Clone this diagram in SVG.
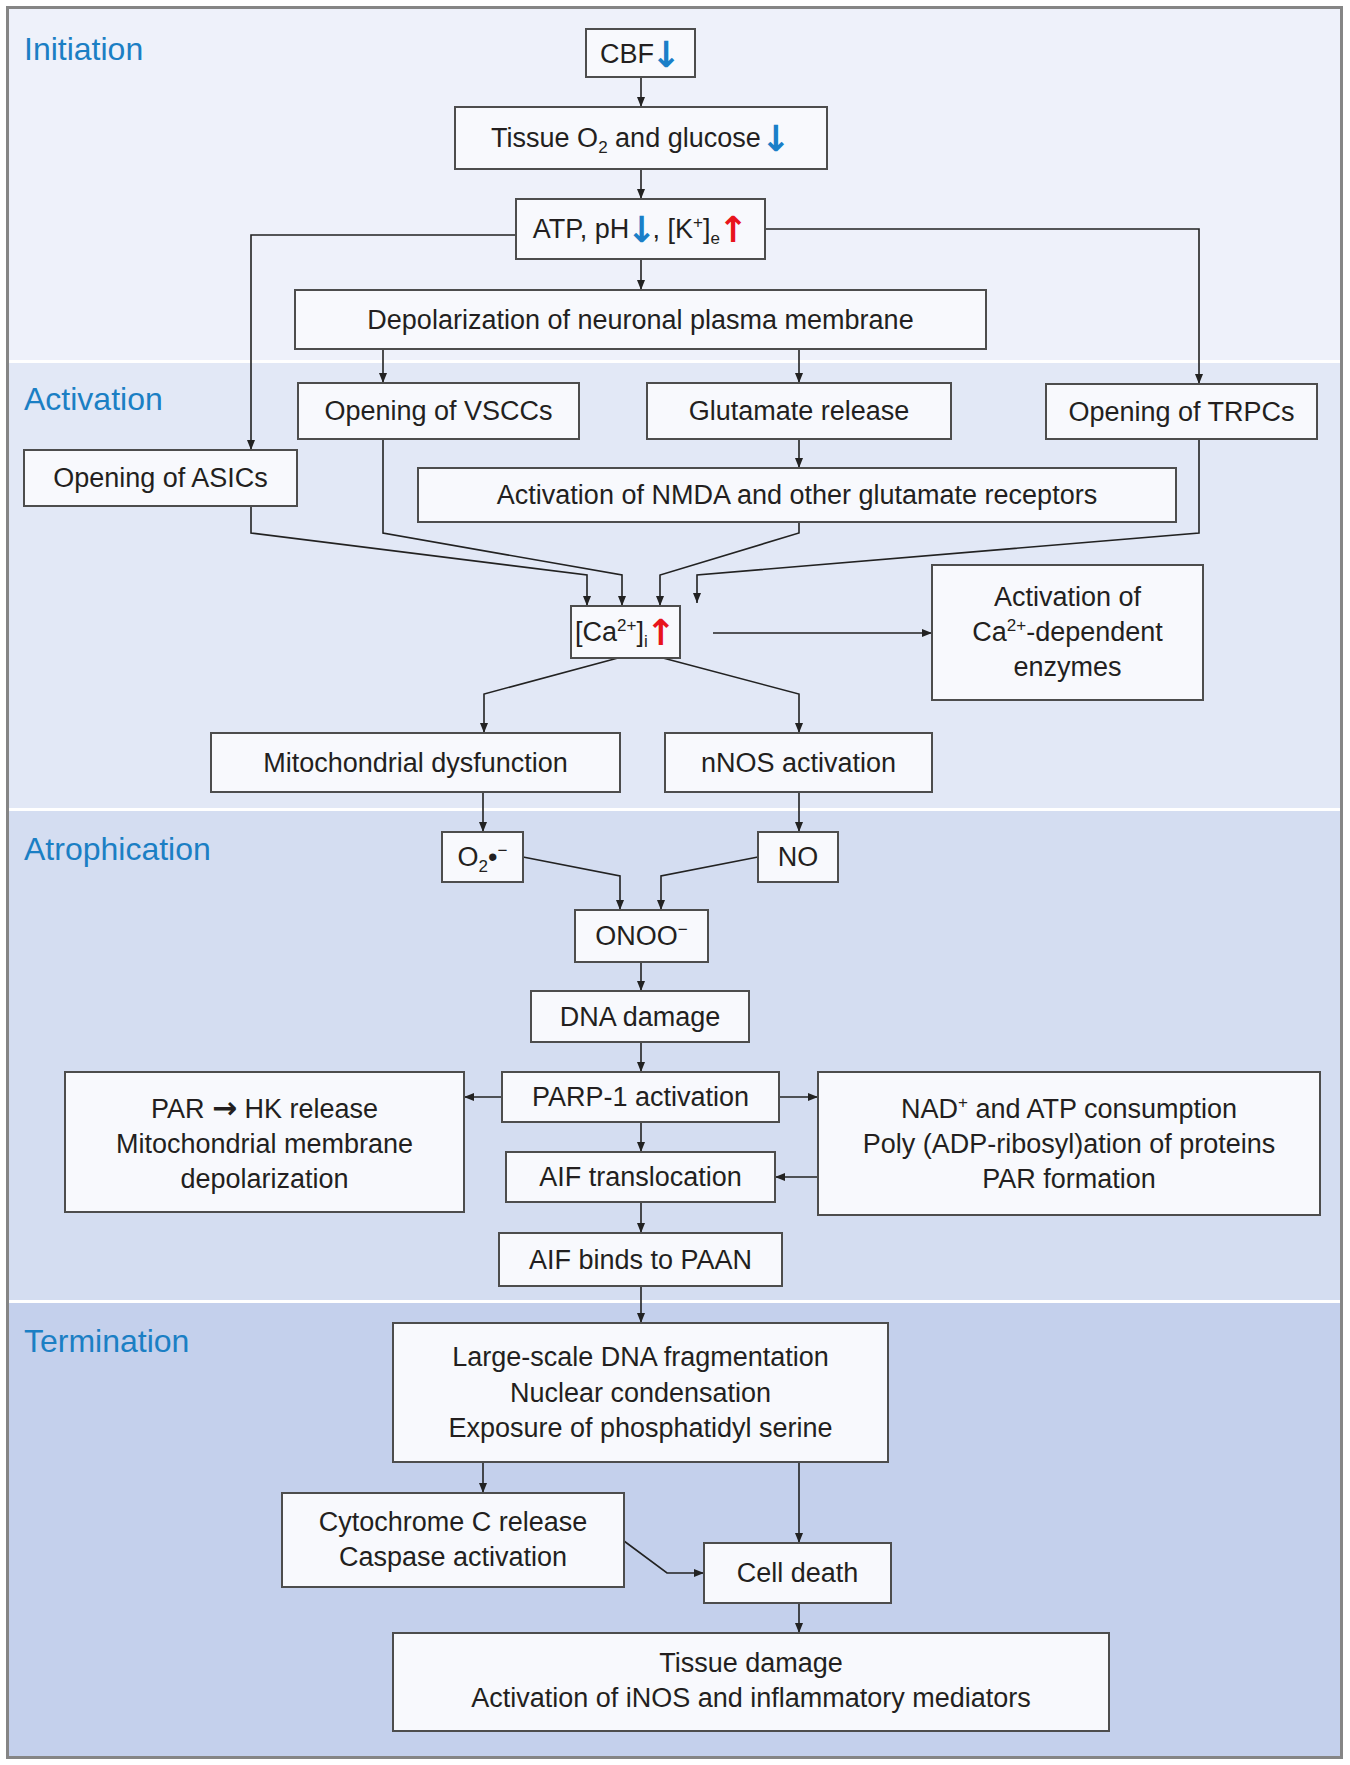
<svg xmlns="http://www.w3.org/2000/svg" width="1350" height="1765" viewBox="0 0 1350 1765">
<defs>
<style>
.t{font-family:"Liberation Sans",Arial,sans-serif;font-size:27px;fill:#231f20;text-anchor:middle}
.s{font-family:"Liberation Sans",Arial,sans-serif;font-size:32px;fill:#1b7fc4}
.b{fill:#f8f9fd;stroke:#4d4d4d;stroke-width:2}
.c path{fill:none;stroke:#222;stroke-width:1.6;marker-end:url(#ah)}
.dn{fill:#1a7fc8;font-weight:bold;font-family:"DejaVu Sans",sans-serif;font-size:36px}
.up{fill:#e8141c;font-weight:bold;font-family:"DejaVu Sans",sans-serif;font-size:36px}
.ar{font-weight:bold;font-family:"DejaVu Sans",sans-serif;font-size:30px}
.sm{font-size:17px}
</style>
<marker id="ah" markerUnits="userSpaceOnUse" markerWidth="10" markerHeight="8" refX="10" refY="4" orient="auto">
<path d="M0,0 L10,4 L0,8 z" fill="#222"/>
</marker>
</defs>
<rect x="0" y="0" width="1350" height="1765" fill="#fff"/>
<g id="bands">
<rect x="9" y="9" width="1331" height="351" fill="#eef1fa"/>
<rect x="9" y="363" width="1331" height="445" fill="#e2e8f6"/>
<rect x="9" y="811" width="1331" height="489" fill="#d4ddf1"/>
<rect x="9" y="1303" width="1331" height="453" fill="#c4d0ec"/>
<rect x="7.5" y="7.5" width="1334" height="1750" fill="none" stroke="#858585" stroke-width="3"/>
</g>
<g id="labels">
<text class="s" x="24" y="60">Initiation</text>
<text class="s" x="24" y="410">Activation</text>
<text class="s" x="24" y="860">Atrophication</text>
<text class="s" x="24" y="1352">Termination</text>
</g>
<g class="c" id="connectors">
<path d="M641,77 V107"/>
<path d="M641,169 V199"/>
<path d="M641,259 V290"/>
<path d="M516,235 H251 V450"/>
<path d="M765,229 H1199 V384"/>
<path d="M383,349 V383"/>
<path d="M799,349 V383"/>
<path d="M799,439 V468"/>
<path d="M251,506 V533 L587,575 V606"/>
<path d="M383,439 V533 L622,575 V606"/>
<path d="M799,522 V533 L660,575 V606"/>
<path d="M1199,439 V533 L697,575 V603"/>
<path d="M713,633 H932"/>
<path d="M618,658 L484,694 V733"/>
<path d="M663,658 L799,694 V733"/>
<path d="M483,792 V832"/>
<path d="M799,792 V832"/>
<path d="M523,857 L620,876 V910"/>
<path d="M758,857 L661,876 V910"/>
<path d="M641,962 V991"/>
<path d="M641,1042 V1072"/>
<path d="M502,1097 H464"/>
<path d="M779,1097 H818"/>
<path d="M641,1122 V1152"/>
<path d="M818,1177 H775"/>
<path d="M641,1202 V1233"/>
<path d="M641,1286 V1323"/>
<path d="M483,1462 V1493"/>
<path d="M799,1462 V1543"/>
<path d="M624,1541 L667,1573 H704"/>
<path d="M799,1603 V1633"/>
</g>
<g id="cbf"><rect class="b" x="586" y="29" width="109" height="48"/><text class="t" x="640.5" y="63">CBF<tspan class="dn" dx="-3" dy="4">↓</tspan></text></g>
<g id="tissue"><rect class="b" x="455" y="107" width="372" height="62"/><text class="t" x="641" y="147">Tissue O<tspan class="sm" dy="6">2</tspan><tspan dy="-6"> and glucose</tspan><tspan class="dn" dy="4">↓</tspan></text></g>
<g id="atp"><rect class="b" x="516" y="199" width="249" height="60"/><text class="t" x="640.5" y="238">ATP, pH<tspan class="dn" dx="-3" dy="4">↓</tspan><tspan dx="-4" dy="-4">, [K</tspan><tspan class="sm" dy="-10">+</tspan><tspan dy="10">]</tspan><tspan class="sm" dy="6">e</tspan><tspan class="up" dx="-2" dy="-2">↑</tspan></text></g>
<g id="depol"><rect class="b" x="295" y="290" width="691" height="59"/><text class="t" x="640.5" y="329">Depolarization of neuronal plasma membrane</text></g>
<g id="vscc"><rect class="b" x="298" y="383" width="281" height="56"/><text class="t" x="438.5" y="420">Opening of VSCCs</text></g>
<g id="glut"><rect class="b" x="647" y="383" width="304" height="56"/><text class="t" x="799" y="420">Glutamate release</text></g>
<g id="trpc"><rect class="b" x="1046" y="384" width="271" height="55"/><text class="t" x="1181.5" y="421">Opening of TRPCs</text></g>
<g id="asic"><rect class="b" x="24" y="450" width="273" height="56"/><text class="t" x="160.5" y="487">Opening of ASICs</text></g>
<g id="nmda"><rect class="b" x="418" y="468" width="758" height="54"/><text class="t" x="797" y="504">Activation of NMDA and other glutamate receptors</text></g>
<g id="ca"><rect class="b" x="571" y="606" width="109" height="52"/><text class="t" x="625.5" y="641">[Ca<tspan class="sm" dy="-10">2+</tspan><tspan dy="10">]</tspan><tspan class="sm" dy="6">i</tspan><tspan class="up" dx="-2" dy="-2">↑</tspan></text></g>
<g id="enz"><rect class="b" x="932" y="565" width="271" height="135"/><text class="t" x="1067.5" y="606">Activation of</text><text class="t" x="1067.5" y="641">Ca<tspan class="sm" dy="-10">2+</tspan><tspan dy="10">-dependent</tspan></text><text class="t" x="1067.5" y="676">enzymes</text></g>
<g id="mito"><rect class="b" x="211" y="733" width="409" height="59"/><text class="t" x="415.5" y="772">Mitochondrial dysfunction</text></g>
<g id="nnos"><rect class="b" x="665" y="733" width="267" height="59"/><text class="t" x="798.5" y="772">nNOS activation</text></g>
<g id="o2"><rect class="b" x="442" y="832" width="81" height="50"/><text class="t" x="482.5" y="866">O<tspan class="sm" dy="6">2</tspan><tspan dy="-6">•</tspan><tspan class="sm" dy="-10">−</tspan></text></g>
<g id="no"><rect class="b" x="758" y="832" width="80" height="50"/><text class="t" x="798" y="866">NO</text></g>
<g id="onoo"><rect class="b" x="575" y="910" width="133" height="52"/><text class="t" x="641.5" y="945">ONOO<tspan class="sm" dy="-10">−</tspan></text></g>
<g id="dna"><rect class="b" x="531" y="991" width="218" height="51"/><text class="t" x="640" y="1026">DNA damage</text></g>
<g id="parp"><rect class="b" x="502" y="1072" width="277" height="50"/><text class="t" x="640.5" y="1106">PARP-1 activation</text></g>
<g id="par"><rect class="b" x="65" y="1072" width="399" height="140"/><text class="t" x="264.5" y="1118">PAR <tspan class="ar">→</tspan> HK release</text><text class="t" x="264.5" y="1153">Mitochondrial membrane</text><text class="t" x="264.5" y="1188">depolarization</text></g>
<g id="nad"><rect class="b" x="818" y="1072" width="502" height="143"/><text class="t" x="1069" y="1118">NAD<tspan class="sm" dy="-10">+</tspan><tspan dy="10"> and ATP consumption</tspan></text><text class="t" x="1069" y="1153">Poly (ADP-ribosyl)ation of proteins</text><text class="t" x="1069" y="1188">PAR formation</text></g>
<g id="aift"><rect class="b" x="506" y="1152" width="269" height="50"/><text class="t" x="640.5" y="1186">AIF translocation</text></g>
<g id="aifb"><rect class="b" x="499" y="1233" width="283" height="53"/><text class="t" x="640.5" y="1269">AIF binds to PAAN</text></g>
<g id="large"><rect class="b" x="393" y="1323" width="495" height="139"/><text class="t" x="640.5" y="1366">Large-scale DNA fragmentation</text><text class="t" x="640.5" y="1402">Nuclear condensation</text><text class="t" x="640.5" y="1437">Exposure of phosphatidyl serine</text></g>
<g id="cyto"><rect class="b" x="282" y="1493" width="342" height="94"/><text class="t" x="453" y="1531">Cytochrome C release</text><text class="t" x="453" y="1566">Caspase activation</text></g>
<g id="cell"><rect class="b" x="704" y="1543" width="187" height="60"/><text class="t" x="797.5" y="1582">Cell death</text></g>
<g id="tdmg"><rect class="b" x="393" y="1633" width="716" height="98"/><text class="t" x="751" y="1672">Tissue damage</text><text class="t" x="751" y="1707">Activation of iNOS and inflammatory mediators</text></g>
</svg>
